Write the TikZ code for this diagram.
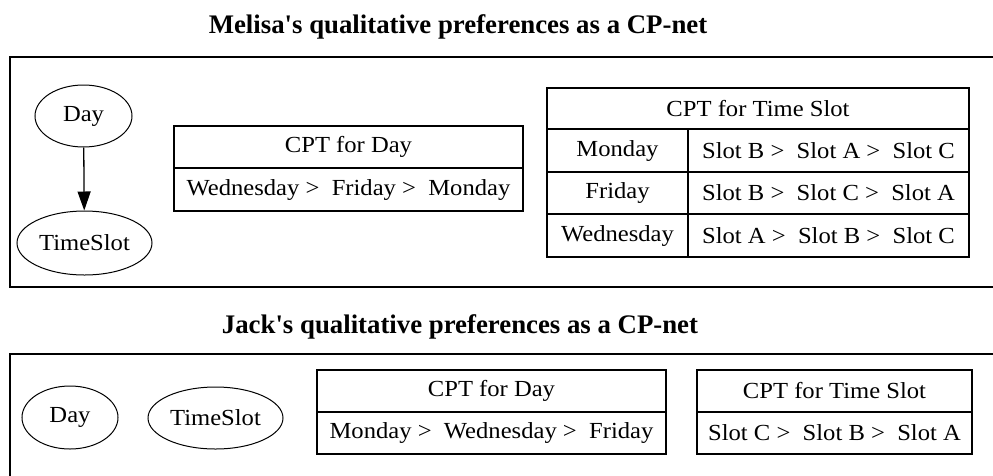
\documentclass[tikz,border=0pt]{standalone}
\usepackage{fontspec}
\setmainfont{Liberation Serif}
\newfontfamily\bodyfont[FakeStretch=1.07]{Liberation Serif}
\newfontfamily\titlefont{Liberation Serif}
\usetikzlibrary{shapes.geometric,arrows.meta}
\tikzset{
  txt/.style={font=\bodyfont\fontsize{23}{26}\selectfont},
  ttl/.style={font=\titlefont\bfseries\fontsize{26.8}{30}\selectfont, anchor=base, inner sep=0pt},
  ell/.style={draw, ellipse, line width=1pt, inner sep=0pt, txt},
  cell/.style={draw, rectangle, line width=1.3pt, inner sep=0pt, txt},
  frame/.style={draw, rectangle, line width=2pt, inner sep=0pt},
  edge/.style={line width=1.3pt, -{Triangle[length=19pt,width=13pt]}}
}
\begin{document}
\begin{tikzpicture}[x=1pt,y=-1pt]
\useasboundingbox (0,0) rectangle (993,475);
\clip (0,0) rectangle (993,475);
\fill[white] (0,0) rectangle (993,475);

% ---------- Melisa ----------
\node[ttl] (title1) at (458,33) {Melisa's qualitative preferences as a CP-net};
\node[frame, minimum width=1100, minimum height=230] (clusterA) at (560,172) {};

\node[ell, minimum width=97, minimum height=62] (dayA) at (83.5,116) {Day};
\node[ell, minimum width=135, minimum height=64] (tsA) at (84.5,243) {TimeSlot};
\draw[edge] (dayA) -- (tsA);

\node[cell, minimum width=349, minimum height=42] (cdA) at (348.5,147) {CPT for Day};
\node[cell, minimum width=349, minimum height=43] (cdArow) at (348.5,189.5) {Wednesday >\ \ Friday >\ \ Monday};

\node[cell, minimum width=422, minimum height=41] (ctA) at (758,108.5) {CPT for Time Slot};
\node[cell, minimum width=141, minimum height=43] (ctA1l) at (617.5,150.5) {Monday};
\node[cell, minimum width=281, minimum height=43] (ctA1r) at (828.5,150.5) {Slot B >\ \ Slot A >\ \ Slot C};
\node[cell, minimum width=141, minimum height=42] (ctA2l) at (617.5,193) {Friday};
\node[cell, minimum width=281, minimum height=42] (ctA2r) at (828.5,193) {Slot B >\ \ Slot C >\ \ Slot A};
\node[cell, minimum width=141, minimum height=43] (ctA3l) at (617.5,235.5) {Wednesday};
\node[cell, minimum width=281, minimum height=43] (ctA3r) at (828.5,235.5) {Slot A >\ \ Slot B >\ \ Slot C};

% ---------- Jack ----------
\node[ttl] (title2) at (460,333) {Jack's qualitative preferences as a CP-net};
\node[frame, minimum width=1100, minimum height=200] (clusterB) at (560,454) {};

\node[ell, minimum width=96, minimum height=63] (dayB) at (70,417.5) {Day};
\node[ell, minimum width=135, minimum height=62] (tsB) at (215.5,418) {TimeSlot};

\node[cell, minimum width=349, minimum height=42] (cdB) at (491.5,391) {CPT for Day};
\node[cell, minimum width=349, minimum height=42] (cdBrow) at (491.5,433) {Monday >\ \ Wednesday >\ \ Friday};

\node[cell, minimum width=275, minimum height=42] (ctB) at (834.5,391) {CPT for Time Slot};
\node[cell, minimum width=275, minimum height=42] (ctBrow) at (834.5,433) {Slot C >\ \ Slot B >\ \ Slot A};
\end{tikzpicture}
\end{document}
